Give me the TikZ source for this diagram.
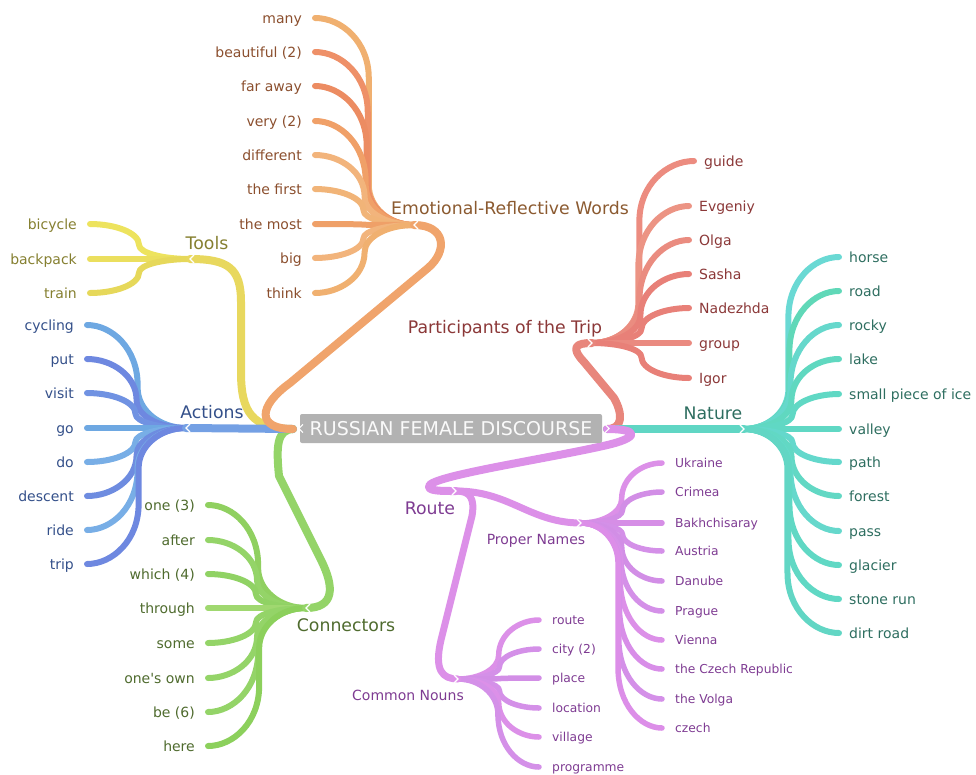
\documentclass[tikz,border=0pt]{standalone}
\usepackage{fontspec}
\setmainfont{DejaVu Sans}
\usetikzlibrary{calc}
\definecolor{emoT}{HTML}{8B4F2E}
\definecolor{emoL}{HTML}{8B5A30}
\definecolor{emoM}{HTML}{F0A46C}
\definecolor{toolT}{HTML}{857F30}
\definecolor{toolM}{HTML}{E8D85E}
\definecolor{actT}{HTML}{34508A}
\definecolor{actM}{HTML}{74A0E4}
\definecolor{conT}{HTML}{4F6B2E}
\definecolor{conM}{HTML}{94D468}
\definecolor{parT}{HTML}{8B3838}
\definecolor{parM}{HTML}{E8867C}
\definecolor{natT}{HTML}{2E6E60}
\definecolor{natM}{HTML}{60D6C4}
\definecolor{rouT}{HTML}{7E3B92}
\definecolor{rouM}{HTML}{DC90E8}
\definecolor{boxG}{HTML}{B2B2B2}
% leaf connector: bend out of the anchor, trunk, wide bend into the leaf
\newcommand\lcurve[3][]{%
  \draw[#1] let \p1=(#2), \p2=(#3),
    \n1={\x1+(0.52-0.0003*abs(\y2-\y1))*(\x2-\x1)},
    \n2={max(-40,min(40,(\y2-\y1)*0.4))},
    \n3={max(-60,min(60,(\y2-\y1)*0.6))} in
    (\p1) .. controls ({\x1+0.55*(\n1-\x1)},\y1) and (\n1,{\y1+0.45*\n2}) .. (\n1,{\y1+\n2})
    -- (\n1,{\y2-\n3}) .. controls (\n1,{\y2-0.4*\n3}) and ({\n1+0.5*(\x2-\n1)},\y2) .. (\p2);}
\begin{document}
\begin{tikzpicture}[x=1pt,y=-1pt,
  lf/.style={line width=6pt,line cap=round,line join=round},
  lfs/.style={line width=5.5pt,line cap=round,line join=round},
  mb/.style={line width=8pt,line cap=round,line join=round},
  lfL/.style={anchor=base east,inner sep=0pt,xshift=-13pt,yshift=-5pt,font=\fontsize{14}{16}\selectfont},
  lfR/.style={anchor=base west,inner sep=0pt,xshift=10pt,yshift=-5pt,font=\fontsize{14}{16}\selectfont},
  lfS/.style={anchor=base west,inner sep=0pt,xshift=13pt,yshift=-4.5pt,font=\fontsize{12.3}{14}\selectfont},
  brl/.style={anchor=base,inner sep=0pt,font=\fontsize{17.3}{20}\selectfont},
  sbl/.style={anchor=base,inner sep=0pt,font=\fontsize{14}{16}\selectfont},
  chev/.style={white,line width=1.1pt,line cap=round}]
\useasboundingbox (0,0) rectangle (976,774);

% anchors
\coordinate (cL) at (293,429);
\coordinate (cR) at (607,429);
\coordinate (emo) at (414,225);
\coordinate (tools) at (190,259);
\coordinate (act) at (186,428);
\coordinate (conn) at (306,608);
\coordinate (part) at (592,343);
\coordinate (nat) at (744,429);
\coordinate (route) at (456,491);
\coordinate (prop) at (581,523);
\coordinate (comm) at (458,679);

% Emotional-Reflective Words leaves
\foreach \y/\t/\c [count=\i] in {18/many/F0B070, 52/beautiful (2)/EE9068, 86/far away/EC8C62,
  121/very (2)/F0A068, 155/different/F2B47C, 189/the first/F1B478, 224/the most/EFA068,
  258/big/F2B47C, 293/think/F0B070}{
  \coordinate (e\i) at (315,\y);
  \definecolor{tmpc}{HTML}{\c}
  \lcurve[lf,draw=tmpc]{emo}{e\i}
  \node[lfL,text=emoT] (et\i) at (e\i) {\t};
}
% Tools leaves
\foreach \y/\t/\c [count=\i] in {224/bicycle/EDE35E, 259/backpack/EBDF5E, 293/train/E6D85A}{
  \coordinate (t\i) at (90,\y);
  \definecolor{tmpc}{HTML}{\c}
  \lcurve[lf,draw=tmpc]{tools}{t\i}
  \node[lfL,text=toolT] (tt\i) at (t\i) {\t};
}
% Actions leaves
\foreach \y/\t/\c [count=\i] in {325/cycling/6EA8E2, 359/put/6E88E0, 393/visit/7092E2, 428/go/6EA8E2,
  462/do/78AEE6, 496/descent/6E8CE0, 530/ride/78AEE6, 564/trip/6E88E0}{
  \coordinate (a\i) at (87,\y);
  \definecolor{tmpc}{HTML}{\c}
  \lcurve[lf,draw=tmpc]{act}{a\i}
  \node[lfL,text=actT] (at\i) at (a\i) {\t};
}
% Connectors leaves
\foreach \y/\t/\c [count=\i] in {505/one (3)/90D060, 540/after/94D468, 574/which (4)/90D264,
  608/through/A0D870, 643/some/94D468, 678/one\textquotesingle s own/94D468, 712/be (6)/94D468, 746/here/8CD05C}{
  \coordinate (k\i) at (208,\y);
  \definecolor{tmpc}{HTML}{\c}
  \lcurve[lf,draw=tmpc]{conn}{k\i}
  \node[lfL,text=conT] (kt\i) at (k\i) {\t};
}
% Participants leaves
\foreach \x/\y/\t/\c [count=\i] in {694/161/guide/EC8C80, 689/206/Evgeniy/EC9484, 689/240/Olga/EA8C80,
  689/274/Sasha/E88078, 689/308/Nadezhda/E88078, 689/343/group/EA8A80, 689/378/Igor/E88078}{
  \coordinate (p\i) at (\x,\y);
  \definecolor{tmpc}{HTML}{\c}
  \lcurve[lf,draw=tmpc]{part}{p\i}
  \node[lfR,text=parT] (pt\i) at (p\i) {\t};
}
% Nature leaves
\foreach \y/\t/\c [count=\i] in {257/horse/6AD9D4, 291/road/60D8B8, 325/rocky/66D8CC, 359/lake/60D8C0,
  394/small piece of ice/60D8C4, 429/valley/60D8C4, 462/path/64D8CC, 496/forest/62D8C4,
  531/pass/66D8CC, 565/glacier/60D8C4, 599/stone run/60D8C4, 633/dirt road/62D6C4}{
  \coordinate (n\i) at (839,\y);
  \definecolor{tmpc}{HTML}{\c}
  \lcurve[lf,draw=tmpc]{nat}{n\i}
  \node[lfR,text=natT] (nt\i) at (n\i) {\t};
}
% Proper Names leaves
\foreach \y/\t/\c [count=\i] in {463/Ukraine/DC90E8, 492/Crimea/D28EE6, 523/Bakhchisaray/D68EE6,
  551/Austria/D490E8, 581/Danube/D28EE6, 611/Prague/D490E8, 640/Vienna/DC90E8,
  669/the Czech Republic/D88EE8, 699/the Volga/D490E8, 728/czech/DC8EE8}{
  \coordinate (r\i) at (662,\y);
  \definecolor{tmpc}{HTML}{\c}
  \lcurve[lfs,draw=tmpc]{prop}{r\i}
  \node[lfS,text=rouT] (rt\i) at (r\i) {\t};
}
% Common Nouns leaves
\foreach \y/\t/\c [count=\i] in {620/route/DC90E8, 649/city (2)/D490E8, 678/place/D28EE6,
  708/location/D490E8, 737/village/DC90E8, 767/programme/D490E8}{
  \coordinate (c\i) at (539,\y);
  \definecolor{tmpc}{HTML}{\c}
  \lcurve[lfs,draw=tmpc]{comm}{c\i}
  \node[lfS,text=rouT] (ct\i) at (c\i) {\t};
}

% main branches
\draw[mb,draw=toolM] (cL) .. controls (252,429) and (241,412) .. (241,372) -- (241,302) .. controls (241,268) and (228,259) .. (tools);
\draw[mb,draw=conM] (cL) .. controls (277,430) and (276,446) .. (279,476) -- (321,560) .. controls (335,588) and (334,608) .. (conn);
\draw[mb,draw=actM] (cL) -- (act);
\draw[mb,draw=emoM] (cL) .. controls (256,429) and (258,406) .. (290,383) -- (428,268) .. controls (448,251) and (446,225) .. (emo);
\draw[mb,draw=parM] (cR) .. controls (623,429) and (623,414) .. (614,398) -- (584,362) .. controls (570,347) and (576,343) .. (part);
\draw[mb,draw=natM] (cR) -- (nat);
\draw[mb,draw=rouM] (cR) .. controls (640,429) and (640,438) .. (603,446) .. controls (540,460) and (432,476) .. (429,486) .. controls (428,491) and (440,491) .. (route);
\draw[mb,line width=7pt,draw=rouM] (route) .. controls (510,491) and (530,523) .. (prop);
\draw[mb,line width=7pt,draw=rouM] (route) .. controls (470,491) and (475,498) .. (472,516) -- (441,640) .. controls (434,670) and (442,679) .. (comm);

% chevron notches
\foreach \n in {emo,tools,act,conn}{
  \draw[chev] ($(\n)+(4,-4)$) -- (\n) -- ($(\n)+(4,4)$);
}
\foreach \n in {part,nat,route,prop,comm}{
  \draw[chev] ($(\n)+(-4,-4)$) -- (\n) -- ($(\n)+(-4,4)$);
}

% center
\node[fill=boxG,rounded corners=2pt,minimum width=302pt,minimum height=29pt,inner sep=0pt,
  text=white!96!gray,font=\fontsize{19}{22}\selectfont] (center) at (451,428.5) {RUSSIAN FEMALE DISCOURSE};
\draw[chev] ([xshift=-1pt]center.west) ++(4,-4) -- ++(-4,4) -- ++(4,4);
\draw[chev] ([xshift=3pt]center.east) ++(0,-4) -- ++(4,4) -- ++(-4,4);

% branch labels
\node[brl,text=emoL] (emoLab) at (510,214) {Emotional-Reflective Words};
\node[brl,text=toolT] (toolLab) at (207,249) {Tools};
\node[brl,text=actT] (actLab) at (212,418) {Actions};
\node[brl,text=conT] (conLab) at (346,631) {Connectors};
\node[brl,text=parT] (parLab) at (505,333) {Participants of the Trip};
\node[brl,text=natT] (natLab) at (713,419) {Nature};
\node[brl,text=rouT] (rouLab) at (430,514) {Route};
\node[sbl,text=rouT] (propLab) at (536,544) {Proper Names};
\node[sbl,text=rouT] (commLab) at (408,700) {Common Nouns};
\end{tikzpicture}
\end{document}
